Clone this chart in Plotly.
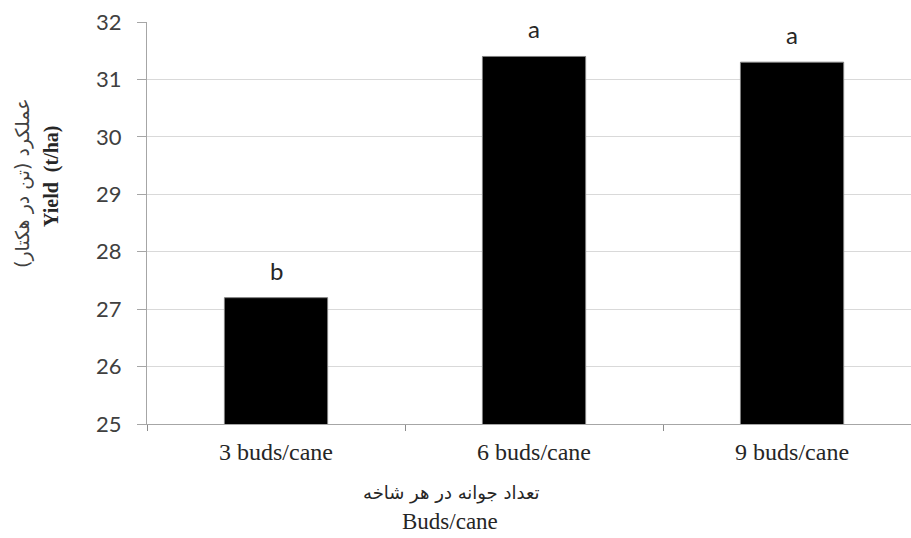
import plotly.graph_objects as go

# Yield by number of buds per cane
categories = ["3 buds/cane", "6 buds/cane", "9 buds/cane"]
yield_t_ha = [27.2, 31.4, 31.3]
letters = ["b", "a", "a"]
y_ticks = [25, 26, 27, 28, 29, 30, 31, 32]

W, H = 911, 538
ML, MR, MT, MB = 147, 0, 22, 114
PW, PH = W - ML - MR, H - MT - MB


def px_x(px):
    return (px - ML) / PW


def px_y(py):
    return (H - MB - py) / PH


fig = go.Figure()
fig.add_trace(go.Bar(
    x=categories,
    y=yield_t_ha,
    width=0.4,
    marker=dict(color="#000000", line=dict(color="#7f7f7f", width=1)),
    hoverinfo="skip",
))

# Significance letters above each bar
for cat, val, lab in zip(categories, yield_t_ha, letters):
    fig.add_annotation(x=cat, y=val, text=lab, showarrow=False,
                       xanchor="center", yanchor="bottom", yshift=11,
                       font=dict(family="Lato", size=24, color="#262626"))

fig.update_layout(
    width=W, height=H,
    margin=dict(l=ML, r=MR, t=MT, b=MB),
    paper_bgcolor="white",
    plot_bgcolor="white",
    showlegend=False,
)

fig.update_xaxes(
    type="category",
    range=[-0.5, 2.461],
    tickson="boundaries",
    ticks="outside",
    ticklen=6,
    tickcolor="#8c8c8c",
    showline=True,
    linecolor="#a6a6a6",
    linewidth=1,
    showgrid=False,
    ticklabelstandoff=6,
    tickfont=dict(family="Liberation Serif", size=24, color="#262626"),
)

fig.update_yaxes(
    range=[25, 32],
    tickvals=y_ticks,
    ticks="outside",
    ticklen=9,
    tickcolor="#a6a6a6",
    showline=True,
    linecolor="#a6a6a6",
    linewidth=1,
    showgrid=True,
    gridcolor="#d9d9d9",
    gridwidth=1,
    zeroline=False,
    ticklabelstandoff=11,
    tickfont=dict(family="Lato", size=22, color="#404040"),
)

# Axis titles (Persian + English)
fig.add_annotation(text="تعداد جوانه در هر شاخه", xref="paper", yref="paper",
                   x=px_x(451), y=px_y(493), xanchor="center", yanchor="middle",
                   showarrow=False,
                   font=dict(family="DejaVu Sans", size=18, color="#262626"))
fig.add_annotation(text="Buds/cane", xref="paper", yref="paper",
                   x=px_x(450), y=px_y(521), xanchor="center", yanchor="middle",
                   showarrow=False,
                   font=dict(family="Liberation Serif", size=23, color="#262626"))
fig.add_annotation(text="عملکرد (تن در هکتار)", xref="paper", yref="paper",
                   x=px_x(22), y=px_y(183), xanchor="center", yanchor="middle",
                   showarrow=False, textangle=-90,
                   font=dict(family="DejaVu Sans", size=19, color="#404040"))
fig.add_annotation(text="<b>Yield  (t/ha)</b>", xref="paper", yref="paper",
                   x=px_x(51), y=px_y(177), xanchor="center", yanchor="middle",
                   showarrow=False, textangle=-90,
                   font=dict(family="Liberation Serif", size=20, color="#262626"))

fig.write_html("out.html")
